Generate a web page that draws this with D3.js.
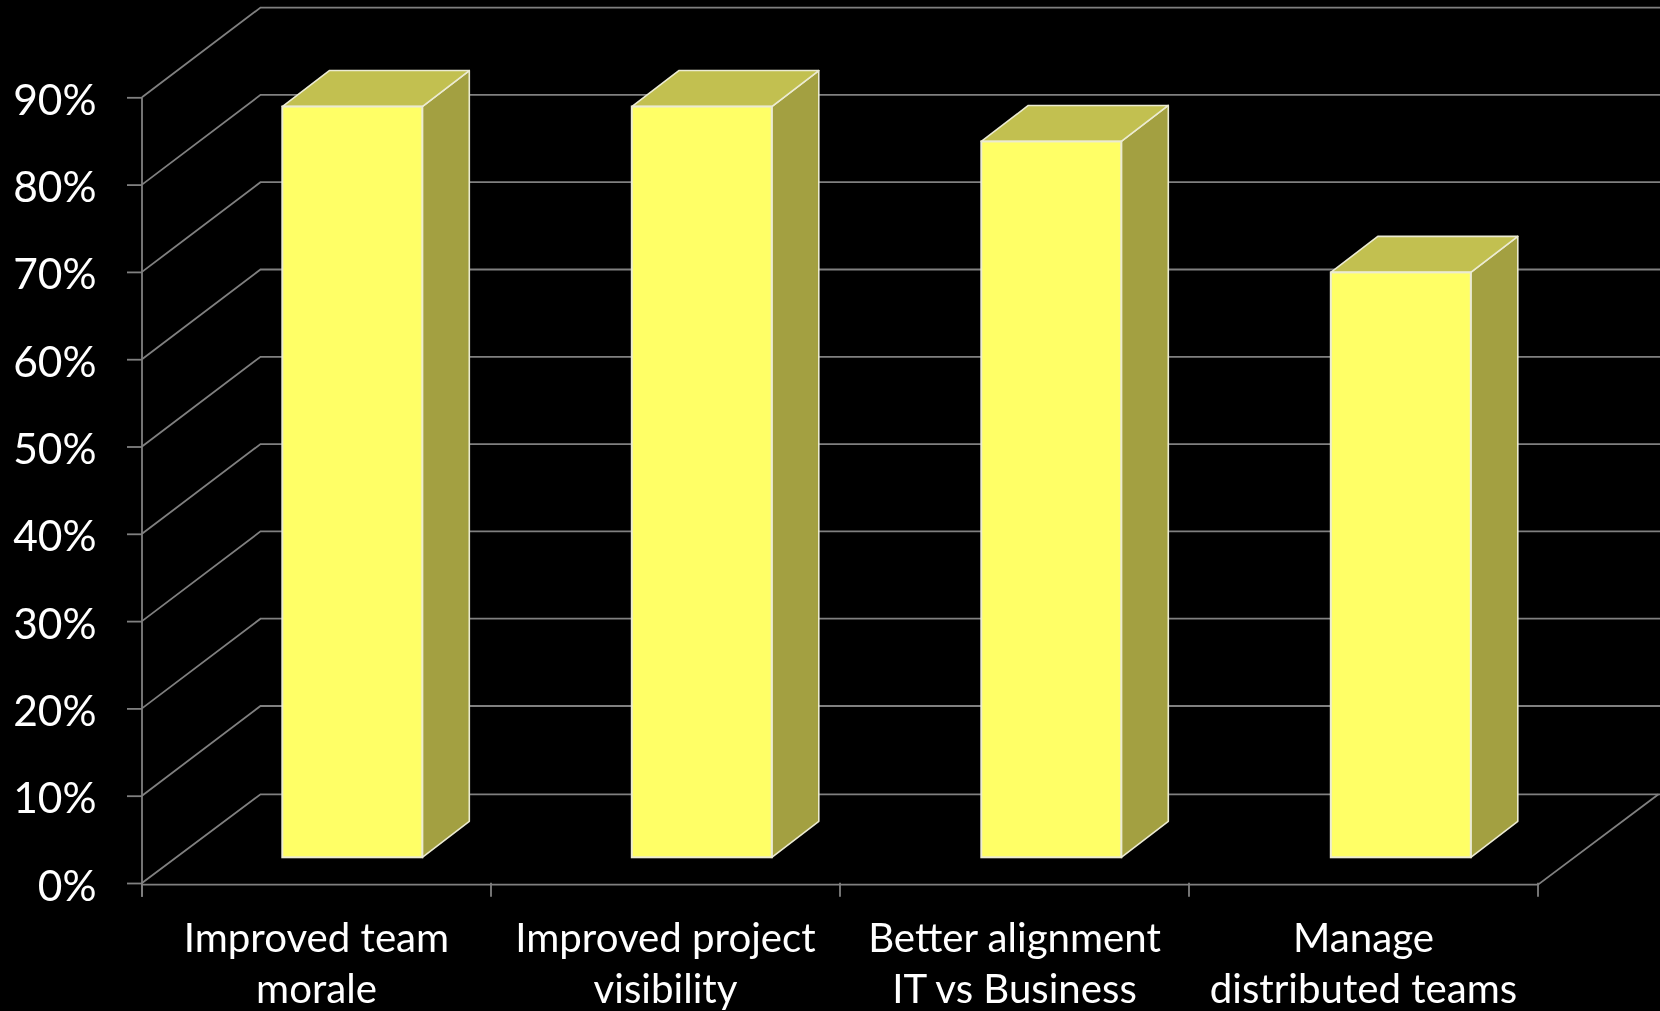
<!DOCTYPE html>
<html><head><meta charset="utf-8">
<script src="https://cdn.jsdelivr.net/npm/d3@7"></script>
<style>html,body{margin:0;padding:0;background:#000;overflow:hidden}svg{display:block;filter:blur(0.45px)}</style>
</head><body><div id="c"></div>
<script>
const categories = [["Improved team","morale"],["Improved project","visibility"],["Better alignment","IT vs Business"],["Manage","distributed teams"]];
const values = [86, 86, 82, 67];
const yTicks = [0,10,20,30,40,50,60,70,80,90];

const W=1660,H=1011;
const svg=d3.select("#c").append("svg").attr("width",W).attr("height",H);
svg.append("rect").attr("width",W).attr("height",H).attr("fill","#000");
const grid="#808080", font="Lato, Carlito, sans-serif";
const x=d3.scaleBand().domain(d3.range(categories.length)).range([142,1538]);
const xBar=d3.scaleBand().domain(d3.range(categories.length)).range([142,1540]);
const y=d3.scaleLinear().domain([0,90]).range([883,97.3]);
const depth={dx:118.5,dy:-89.7};
const barFront={off:140.3,w:140,base:857.3};
const barDepth={dx:47.5,dy:-36};
const barH=d3.scaleLinear().domain([0,90]).range([0,785.7]);

const gl=svg.append("g").attr("fill","none").attr("stroke",grid).attr("stroke-width",1.8);
yTicks.forEach(t=>{
  const y0=y(t), yb=y0+depth.dy+(t===0?1:0);
  gl.append("path").attr("d",d3.line()([[x.range()[0],y0],[x.range()[0]+depth.dx,yb],[W,yb]]));
});
const fy=884.7;
gl.append("path").attr("d",d3.line()([[x.range()[0],fy],[x.range()[1],fy],[x.range()[1]+depth.dx+2,y(0)+depth.dy+1]]));
x.domain().concat([4]).forEach(i=>{
  const px=x.range()[0]+i*x.step();
  gl.append("line").attr("x1",px).attr("x2",px).attr("y1",fy-2).attr("y2",896.7);
});
const ax=svg.append("g").attr("transform",`translate(${x.range()[0]},0)`)
  .call(d3.axisLeft(y).tickValues(yTicks).tickSize(15).tickPadding(0).tickFormat(d=>d+"%"));
ax.selectAll("path,line").attr("stroke",grid).attr("stroke-width",1.8);
ax.select(".domain").attr("d",`M0,${y(90)}V896.7`);
ax.selectAll("text").attr("x",-45.5).attr("dy",0).attr("y",17).attr("fill","#fff")
  .attr("font-family",font).attr("font-size",42.5).attr("text-anchor","end");

const edge="#ecebd2";
const bars=svg.append("g").selectAll("g").data(values).join("g");
bars.each(function(v,i){
  const g=d3.select(this);
  const l=xBar(i)+barFront.off, r=l+barFront.w, b=barFront.base, t=b-barH(v);
  const dx=barDepth.dx-0.5, dy=barDepth.dy, line=d3.line();
  g.append("path").attr("d",line([[r,t],[r+dx,t+dy],[r+dx,b+dy],[r,b]])+"Z").attr("fill","#a3a041").attr("stroke",edge).attr("stroke-width",1.6).attr("stroke-linejoin","round");
  g.append("path").attr("d",line([[l,t],[l+dx,t+dy],[r+dx,t+dy],[r,t]])+"Z").attr("fill","#c2c050").attr("stroke",edge).attr("stroke-width",1.6).attr("stroke-linejoin","round");
  g.append("rect").attr("x",l).attr("y",t).attr("width",r-l).attr("height",b-t).attr("fill","#ffff66").attr("stroke",edge).attr("stroke-width",2);
});

const lab=svg.append("g").attr("fill","#fff").attr("font-family",font).attr("font-size",40.2).attr("text-anchor","middle");
categories.forEach((ls,i)=>ls.forEach((s,j)=>{
  lab.append("text").attr("x",x(i)+x.bandwidth()/2).attr("y",951.5+j*51).text(s);
}));
</script></body></html>
